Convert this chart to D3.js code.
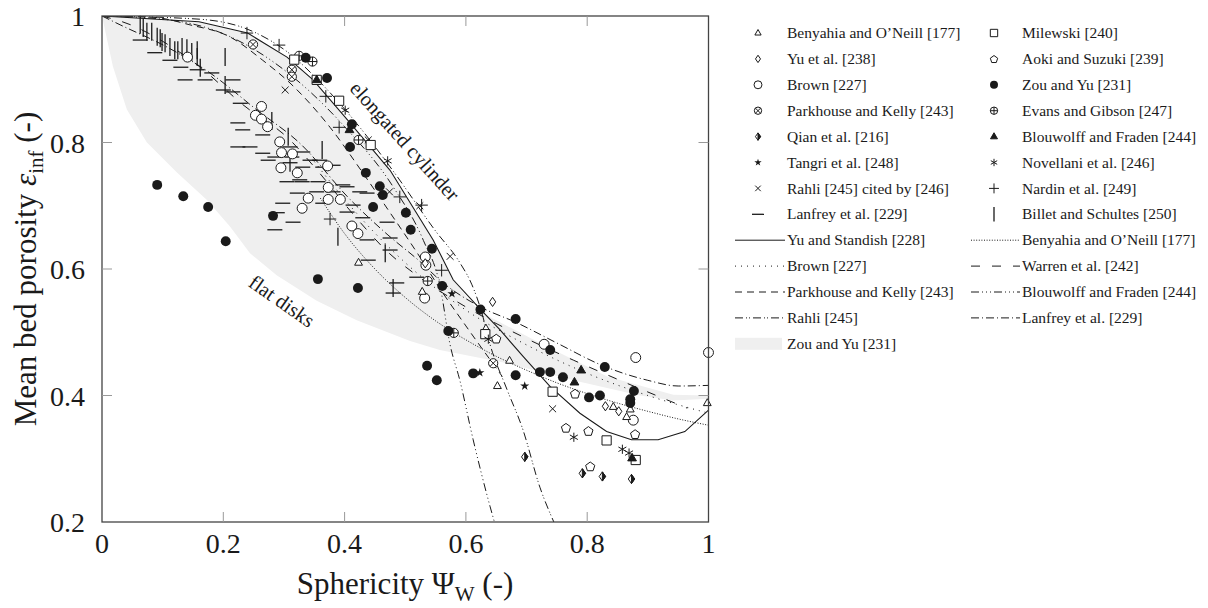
<!DOCTYPE html>
<html><head><meta charset="utf-8">
<script src="https://cdn.jsdelivr.net/npm/d3@7"></script>
<style>
body{margin:0;background:#fff}
svg{display:block}
text{font-family:"Liberation Serif","Times New Roman",serif;fill:#1a1a1a}
</style>
</head><body>
<svg id="chart" width="1208" height="608"></svg>
<script>
// ---- measured data: sphericity (x) vs mean bed porosity (y) ----
const benyahiaPts = [[0.423,0.61],[0.528,0.564],[0.633,0.506],[0.672,0.455],[0.652,0.415],[0.843,0.382],[0.865,0.366],[0.871,0.378],[0.998,0.388]];
const yuPts = [[0.533,0.609],[0.644,0.548],[0.830,0.383],[0.852,0.375]];
const brownPts = [[0.141,0.935],[0.263,0.857],[0.253,0.843],[0.263,0.837],[0.273,0.825],[0.293,0.801],[0.296,0.784],[0.314,0.782],[0.295,0.760],[0.322,0.752],[0.372,0.763],[0.373,0.729],[0.373,0.710],[0.393,0.710],[0.340,0.712],[0.330,0.696],[0.412,0.668],[0.422,0.656],[0.533,0.619],[0.534,0.606],[0.532,0.554],[0.729,0.481],[0.880,0.460],[1.0,0.468],[0.876,0.361]];
const parkhousePts = [[0.249,0.955],[0.313,0.915],[0.313,0.904],[0.645,0.451]];
const qianPts = [[0.697,0.303],[0.792,0.277],[0.825,0.272],[0.873,0.268]];
const tangriPts = [[0.577,0.561],[0.623,0.436],[0.697,0.415]];
const rahliCitedPts = [[0.302,0.883],[0.439,0.804],[0.474,0.722],[0.524,0.700],[0.574,0.620],[0.743,0.379]];
const lanfreyPts = [[0.063,0.962],[0.087,0.942],[0.112,0.930],[0.130,0.919],[0.137,0.899],[0.157,0.915],[0.181,0.910],[0.170,0.899],[0.200,0.883],[0.216,0.899],[0.216,0.880],[0.228,0.862],[0.224,0.831],[0.232,0.820],[0.224,0.793],[0.244,0.793],[0.265,0.812],[0.265,0.783],[0.285,0.777],[0.310,0.793],[0.313,0.777],[0.331,0.785],[0.310,0.768],[0.331,0.761],[0.359,0.772],[0.364,0.761],[0.381,0.764],[0.330,0.738],[0.298,0.704],[0.289,0.689],[0.285,0.662],[0.354,0.722],[0.381,0.722],[0.404,0.730],[0.364,0.704],[0.414,0.701],[0.437,0.720],[0.305,0.738],[0.326,0.741],[0.356,0.738],[0.322,0.720],[0.397,0.733],[0.425,0.722],[0.315,0.674],[0.404,0.690],[0.430,0.681],[0.470,0.674],[0.475,0.649],[0.437,0.646],[0.475,0.630],[0.439,0.614],[0.486,0.578],[0.480,0.562],[0.519,0.587],[0.274,0.772],[0.343,0.772]];
const milewskiPts = [[0.317,0.931],[0.354,0.899],[0.391,0.866],[0.443,0.796],[0.632,0.497],[0.743,0.406],[0.832,0.329],[0.880,0.298]];
const aokiPts = [[0.650,0.490],[0.780,0.403],[0.765,0.349],[0.802,0.344],[0.805,0.288],[0.879,0.339]];
const zouPts = [[0.091,0.733],[0.134,0.715],[0.175,0.698],[0.204,0.644],[0.282,0.684],[0.356,0.584],[0.422,0.570],[0.336,0.934],[0.371,0.902],[0.412,0.829],[0.409,0.793],[0.435,0.752],[0.458,0.731],[0.463,0.717],[0.447,0.698],[0.501,0.689],[0.509,0.662],[0.544,0.632],[0.561,0.573],[0.571,0.502],[0.624,0.536],[0.682,0.521],[0.536,0.447],[0.552,0.424],[0.612,0.435],[0.682,0.432],[0.722,0.437],[0.739,0.437],[0.739,0.472],[0.760,0.429],[0.803,0.397],[0.821,0.400],[0.829,0.445],[0.877,0.407],[0.871,0.394],[0.871,0.388]];
const evansPts = [[0.325,0.937],[0.347,0.928],[0.423,0.804],[0.537,0.581],[0.580,0.499]];
const blouwolffPts = [[0.354,0.899],[0.408,0.820],[0.790,0.440],[0.779,0.421],[0.874,0.301]];
const novellaniPts = [[0.401,0.851],[0.471,0.771],[0.637,0.489],[0.778,0.334],[0.858,0.315],[0.869,0.309]];
const nardinPts = [[0.239,0.973],[0.292,0.954],[0.369,0.873],[0.391,0.824],[0.376,0.679],[0.491,0.714],[0.527,0.701],[0.560,0.598]];
const billetPts = [[0.063,0.986],[0.068,0.981],[0.074,0.975],[0.082,0.975],[0.091,0.967],[0.096,0.965],[0.099,0.959],[0.104,0.957],[0.112,0.951],[0.120,0.946],[0.125,0.946],[0.132,0.951],[0.140,0.949],[0.148,0.943],[0.157,0.946],[0.157,0.935],[0.162,0.918],[0.203,0.935],[0.203,0.891],[0.280,0.834],[0.307,0.809],[0.363,0.788],[0.310,0.768],[0.389,0.651],[0.467,0.625],[0.480,0.570]];

// ---- correlation curves ----
const yuStandishCurve = [[0,1],[0.16,0.991],[0.24,0.973],[0.305,0.935],[0.348,0.899],[0.41,0.83],[0.475,0.756],[0.546,0.646],[0.579,0.583],[0.624,0.536],[0.656,0.504],[0.695,0.461],[0.739,0.414],[0.788,0.372],[0.832,0.343],[0.873,0.330],[0.917,0.330],[0.961,0.343],[1,0.377]];
const benyahiaCurve = [[0.36,0.712],[0.4,0.656],[0.45,0.600],[0.5,0.555],[0.55,0.518],[0.6,0.488],[0.65,0.462],[0.7,0.440],[0.75,0.420],[0.8,0.403],[0.85,0.388],[0.9,0.375],[0.95,0.363],[1,0.353]];
const brownCurve = [[0.35,0.77],[0.4,0.71],[0.5,0.61],[0.6,0.535],[0.7,0.48],[0.8,0.435],[0.9,0.40],[1,0.372]];
const warrenCurve = [[0,1],[0.05,0.985],[0.1,0.96],[0.162,0.919],[0.232,0.86],[0.31,0.804],[0.354,0.757],[0.42,0.68],[0.47,0.628],[0.519,0.59],[0.6,0.54],[0.7,0.49],[0.777,0.456],[0.854,0.424],[0.965,0.38]];
const parkhouseCurve = [[0,1],[0.084,0.998],[0.145,0.986],[0.211,0.967],[0.265,0.93],[0.31,0.894],[0.376,0.824],[0.43,0.752],[0.475,0.689],[0.52,0.625],[0.56,0.565],[0.6,0.51],[0.66,0.43]];
const blouwolffCurve = [[0,1],[0.1,0.995],[0.2,0.972],[0.3,0.915],[0.4,0.825],[0.48,0.73],[0.53,0.645],[0.557,0.575],[0.574,0.48],[0.59,0.424],[0.612,0.33],[0.64,0.224],[0.647,0.2]];
const rahliCurve = [[0,1],[0.16,0.995],[0.25,0.975],[0.31,0.94],[0.36,0.895],[0.42,0.83],[0.48,0.755],[0.55,0.66],[0.59,0.61],[0.61,0.575],[0.625,0.535],[0.64,0.48],[0.668,0.409],[0.694,0.346],[0.722,0.255],[0.745,0.2]];
const lanfreyCurve = [[0,1],[0.03,0.986],[0.107,0.951],[0.178,0.91],[0.256,0.851],[0.326,0.799],[0.409,0.71],[0.47,0.655],[0.524,0.612],[0.56,0.58],[0.624,0.54],[0.684,0.515],[0.75,0.483],[0.826,0.447],[0.9,0.424],[0.95,0.415],[1,0.416]];
// Zou and Yu band: elongated-cylinder edge and flat-disk edge
const zouUpper = [[0,1],[0.16,0.991],[0.24,0.972],[0.305,0.934],[0.348,0.897],[0.41,0.828],[0.475,0.754],[0.546,0.645],[0.579,0.583],[0.61,0.545],[0.628,0.53],[0.722,0.483],[0.833,0.43],[0.942,0.401],[1,0.4]];
const zouLower = [[0,1],[0.018,0.92],[0.041,0.852],[0.074,0.8],[0.124,0.752],[0.173,0.709],[0.211,0.667],[0.244,0.625],[0.288,0.59],[0.354,0.55],[0.42,0.519],[0.508,0.486],[0.557,0.472],[0.668,0.451],[0.777,0.424],[0.887,0.4],[0.942,0.392],[1,0.395]];

const xTicks = [0,0.2,0.4,0.6,0.8,1];
const yTicks = [0.2,0.4,0.6,0.8,1];

const svg = d3.select("#chart");
const x = d3.scaleLinear([0,1],[102,708.5]);
const y = d3.scaleLinear([0.2,1],[522,16]);
const INK = "#1a1a1a";

svg.append("defs").append("clipPath").attr("id","plotclip")
  .append("rect").attr("x",x(0)).attr("y",y(1)).attr("width",x(1)-x(0)).attr("height",y(0.2)-y(1));

const plot = svg.append("g").attr("clip-path","url(#plotclip)");

// band
const bandPts = zouUpper.concat(zouLower.slice().reverse());
plot.append("path")
  .attr("d", d3.line().x(d=>x(d[0])).y(d=>y(d[1])).curve(d3.curveLinearClosed)(bandPts))
  .attr("fill","#efefef").attr("stroke","none");

// curve styles
const DASH = {
  yuStandish: null,
  benyahia: "1,1.6",
  brown: "1,5",
  warren: "9,12",
  parkhouse: "7,5",
  blouwolff: "8,3,1,3,1,3,1,3",
  rahli: "8,3,1,2,1,3",
  lanfrey: "8,3,1,3"
};
const curves = [
  {data: yuStandishCurve, dash: DASH.yuStandish, w:1.1, curve: d3.curveLinear},
  {data: benyahiaCurve, dash: DASH.benyahia, w:1, curve: d3.curveMonotoneX},
  {data: brownCurve, dash: DASH.brown, w:1, curve: d3.curveMonotoneX},
  {data: warrenCurve, dash: DASH.warren, w:1, curve: d3.curveMonotoneX},
  {data: parkhouseCurve, dash: DASH.parkhouse, w:1, curve: d3.curveMonotoneX},
  {data: blouwolffCurve, dash: DASH.blouwolff, w:1, curve: d3.curveMonotoneX},
  {data: rahliCurve, dash: DASH.rahli, w:1, curve: d3.curveMonotoneX},
  {data: lanfreyCurve, dash: DASH.lanfrey, w:1, curve: d3.curveMonotoneX}
];
curves.forEach(c => {
  plot.append("path")
    .attr("d", d3.line().x(d=>x(d[0])).y(d=>y(d[1])).curve(c.curve)(c.data))
    .attr("fill","none").attr("stroke",INK).attr("stroke-width",c.w)
    .attr("stroke-dasharray",c.dash);
});

// marker glyphs
function drawMarker(g, type, k){
  k = k || 1;
  const s = 4.6*k;
  const P = (d, fill) => g.append("path").attr("d",d).attr("stroke",INK).attr("stroke-width",1).attr("fill",fill||"none");
  switch(type){
    case "tri": P(`M0,${-s*0.95}L${s*0.85},${s*0.55}L${-s*0.85},${s*0.55}Z`, "#fff"); break;
    case "dia": P(`M0,${-s}L${s*0.68},0L0,${s}L${-s*0.68},0Z`, "#fff"); break;
    case "circ": g.append("circle").attr("r",s*1.08).attr("stroke",INK).attr("fill","#fff"); break;
    case "circX": { g.append("circle").attr("r",s).attr("stroke",INK).attr("fill","#fff");
      const a=s*0.7; P(`M${-a},${-a}L${a},${a}M${-a},${a}L${a},${-a}`); break; }
    case "halfDia": P(`M0,${-s}L${s*0.7},0L0,${s}L${-s*0.7},0Z`, "#fff"); P(`M0,${-s}L${s*0.7},0L0,${s}Z`, INK); break;
    case "star": g.append("path").attr("d", d3.symbol(d3.symbolStar, 26*k*k)()).attr("fill",INK); break;
    case "x": { const a=s*0.75; P(`M${-a},${-a}L${a},${a}M${-a},${a}L${a},${-a}`); break; }
    case "hbar": g.append("path").attr("d",`M${-7.5*k},0H${7.5*k}`).attr("stroke",INK).attr("stroke-width",1.3); break;
    case "sq": P(`M${-s},${-s}H${s}V${s}H${-s}Z`, "#fff"); break;
    case "pent": { const pts=d3.range(5).map(i=>{const t=-Math.PI/2+i*2*Math.PI/5; return [s*1.05*Math.cos(t), s*1.05*Math.sin(t)+0.5];});
      P("M"+pts.map(p=>p.join(",")).join("L")+"Z", "#fff"); break; }
    case "dot": g.append("circle").attr("r",s*1.08).attr("fill",INK); break;
    case "circPlus": { g.append("circle").attr("r",s).attr("stroke",INK).attr("fill","#fff");
      P(`M${-s},0H${s}M0,${-s}V${s}`); break; }
    case "triFill": P(`M0,${-s*1.05}L${s*0.95},${s*0.6}L${-s*0.95},${s*0.6}Z`, INK); break;
    case "ast": { let d=""; for(let i=0;i<3;i++){const t=Math.PI/2+i*Math.PI/3; const a=s*Math.cos(t), b=s*Math.sin(t); d+=`M${-a},${-b}L${a},${b}`;} P(d); break; }
    case "plus": { const a=s*1.35; P(`M${-a},0H${a}M0,${-a}V${a}`); break; }
    case "vbar": g.append("path").attr("d",`M0,${-9*k}V${9*k}`).attr("stroke",INK).attr("stroke-width",1.3); break;
  }
}

const series = [
  {name:"Benyahia and O\u2019Neill [177]", pts:benyahiaPts, m:"tri"},
  {name:"Yu et al. [238]", pts:yuPts, m:"dia"},
  {name:"Brown [227]", pts:brownPts, m:"circ"},
  {name:"Parkhouse and Kelly [243]", pts:parkhousePts, m:"circX"},
  {name:"Qian et al. [216]", pts:qianPts, m:"halfDia"},
  {name:"Tangri et al. [248]", pts:tangriPts, m:"star"},
  {name:"Rahli [245] cited by [246]", pts:rahliCitedPts, m:"x"},
  {name:"Lanfrey et al. [229]", pts:lanfreyPts, m:"hbar"},
  {name:"Milewski [240]", pts:milewskiPts, m:"sq"},
  {name:"Aoki and Suzuki [239]", pts:aokiPts, m:"pent"},
  {name:"Zou and Yu [231]", pts:zouPts, m:"dot"},
  {name:"Evans and Gibson [247]", pts:evansPts, m:"circPlus"},
  {name:"Blouwolff and Fraden [244]", pts:blouwolffPts, m:"triFill"},
  {name:"Novellani et al. [246]", pts:novellaniPts, m:"ast"},
  {name:"Nardin et al. [249]", pts:nardinPts, m:"plus"},
  {name:"Billet and Schultes [250]", pts:billetPts, m:"vbar"}
];

// draw order: bars and crosses first, filled dots on top
const drawOrder = ["vbar","hbar","plus","x","circ","circX","circPlus","tri","dia","sq","pent","halfDia","star","ast","dot","triFill"];
const markLayer = svg.append("g");
drawOrder.forEach(m => {
  series.filter(s => s.m === m).forEach(s => {
    s.pts.forEach(p => {
      const g = markLayer.append("g").attr("transform",`translate(${x(p[0])},${y(p[1])})`);
      drawMarker(g, s.m, 1);
    });
  });
});

// frame and inward ticks on all sides
const frame = svg.append("g");
frame.append("rect").attr("x",x(0)).attr("y",y(1)).attr("width",x(1)-x(0)).attr("height",y(0.2)-y(1))
  .attr("fill","none").attr("stroke","#444").attr("stroke-width",1.3);
const tickLen = 10;
xTicks.slice(1,-1).forEach(t => {
  frame.append("line").attr("x1",x(t)).attr("x2",x(t)).attr("y1",y(0.2)).attr("y2",y(0.2)-tickLen).attr("stroke","#999");
  frame.append("line").attr("x1",x(t)).attr("x2",x(t)).attr("y1",y(1)).attr("y2",y(1)+tickLen).attr("stroke","#999");
});
yTicks.slice(1,-1).forEach(t => {
  frame.append("line").attr("y1",y(t)).attr("y2",y(t)).attr("x1",x(0)).attr("x2",x(0)+tickLen).attr("stroke","#999");
  frame.append("line").attr("y1",y(t)).attr("y2",y(t)).attr("x1",x(1)).attr("x2",x(1)-tickLen).attr("stroke","#999");
});

// tick labels
const fmt = d => d === 0 ? "0" : d === 1 ? "1" : d3.format(".1f")(d);
svg.append("g").selectAll("text").data(xTicks).join("text")
  .attr("x", d=>x(d)).attr("y", 553).attr("text-anchor","middle")
  .attr("font-size",28).text(fmt);
svg.append("g").selectAll("text").data(yTicks).join("text")
  .attr("x", 85).attr("y", d=>y(d)+10).attr("text-anchor","end")
  .attr("font-size",28).text(fmt);

// axis titles
const xt = svg.append("text").attr("x",405).attr("y",594).attr("text-anchor","middle").attr("font-size",31);
xt.append("tspan").text("Sphericity \u03A8");
xt.append("tspan").attr("font-size",21).attr("dy",7).text("W");
xt.append("tspan").attr("dy",-7).text(" (-)");

const yt = svg.append("text").attr("transform",`translate(36,${(y(1)+y(0.2))/2}) rotate(-90)`)
  .attr("text-anchor","middle").attr("font-size",31);
yt.append("tspan").text("Mean bed porosity ");
yt.append("tspan").attr("font-style","italic").text("\u03B5");
yt.append("tspan").attr("font-size",21).attr("dy",7).text("inf");
yt.append("tspan").attr("dy",-7).text(" (-)");

// region annotations
svg.append("text").attr("transform","translate(405,141) rotate(48)").attr("text-anchor","middle")
  .attr("dy","0.35em").attr("font-size",20.5).text("elongated cylinder");
svg.append("text").attr("transform","translate(282,301) rotate(35)").attr("text-anchor","middle")
  .attr("dy","0.35em").attr("font-size",20.5).text("flat disks");

// legend
const leg = svg.append("g");
const rowY = i => 33 + i*25.9;
const colMark = [758, 994], colText = [787, 1022];
series.forEach((s,i) => {
  const col = i < 8 ? 0 : 1, row = i % 8;
  const g = leg.append("g").attr("transform",`translate(${colMark[col]},${rowY(row)})`);
  drawMarker(g, s.m, 0.8);
  leg.append("text").attr("x",colText[col]).attr("y",rowY(row)).attr("dy","0.33em").attr("font-size",15.5).text(s.name);
});
const lineLegend = [
  {name:"Yu and Standish [228]", dash:DASH.yuStandish},
  {name:"Benyahia and O\u2019Neill [177]", dash:DASH.benyahia},
  {name:"Brown [227]", dash:DASH.brown},
  {name:"Warren et al. [242]", dash:DASH.warren},
  {name:"Parkhouse and Kelly [243]", dash:DASH.parkhouse},
  {name:"Blouwolff and Fraden [244]", dash:DASH.blouwolff},
  {name:"Rahli [245]", dash:DASH.rahli},
  {name:"Lanfrey et al. [229]", dash:DASH.lanfrey}
];
const lineStart = [735, 971], lineEnd = [785, 1020];
lineLegend.forEach((l,i) => {
  const col = i % 2, row = 8 + Math.floor(i/2);
  leg.append("line").attr("x1",lineStart[col]).attr("x2",lineEnd[col]).attr("y1",rowY(row)).attr("y2",rowY(row))
    .attr("stroke",INK).attr("stroke-width",1).attr("stroke-dasharray",l.dash);
  leg.append("text").attr("x",colText[col]).attr("y",rowY(row)).attr("dy","0.33em").attr("font-size",15.5).text(l.name);
});
leg.append("rect").attr("x",735).attr("y",rowY(12)-6).attr("width",47).attr("height",12).attr("fill","#efefef");
leg.append("text").attr("x",colText[0]).attr("y",rowY(12)).attr("dy","0.33em").attr("font-size",15.5).text("Zou and Yu [231]");
</script>
</body></html>
